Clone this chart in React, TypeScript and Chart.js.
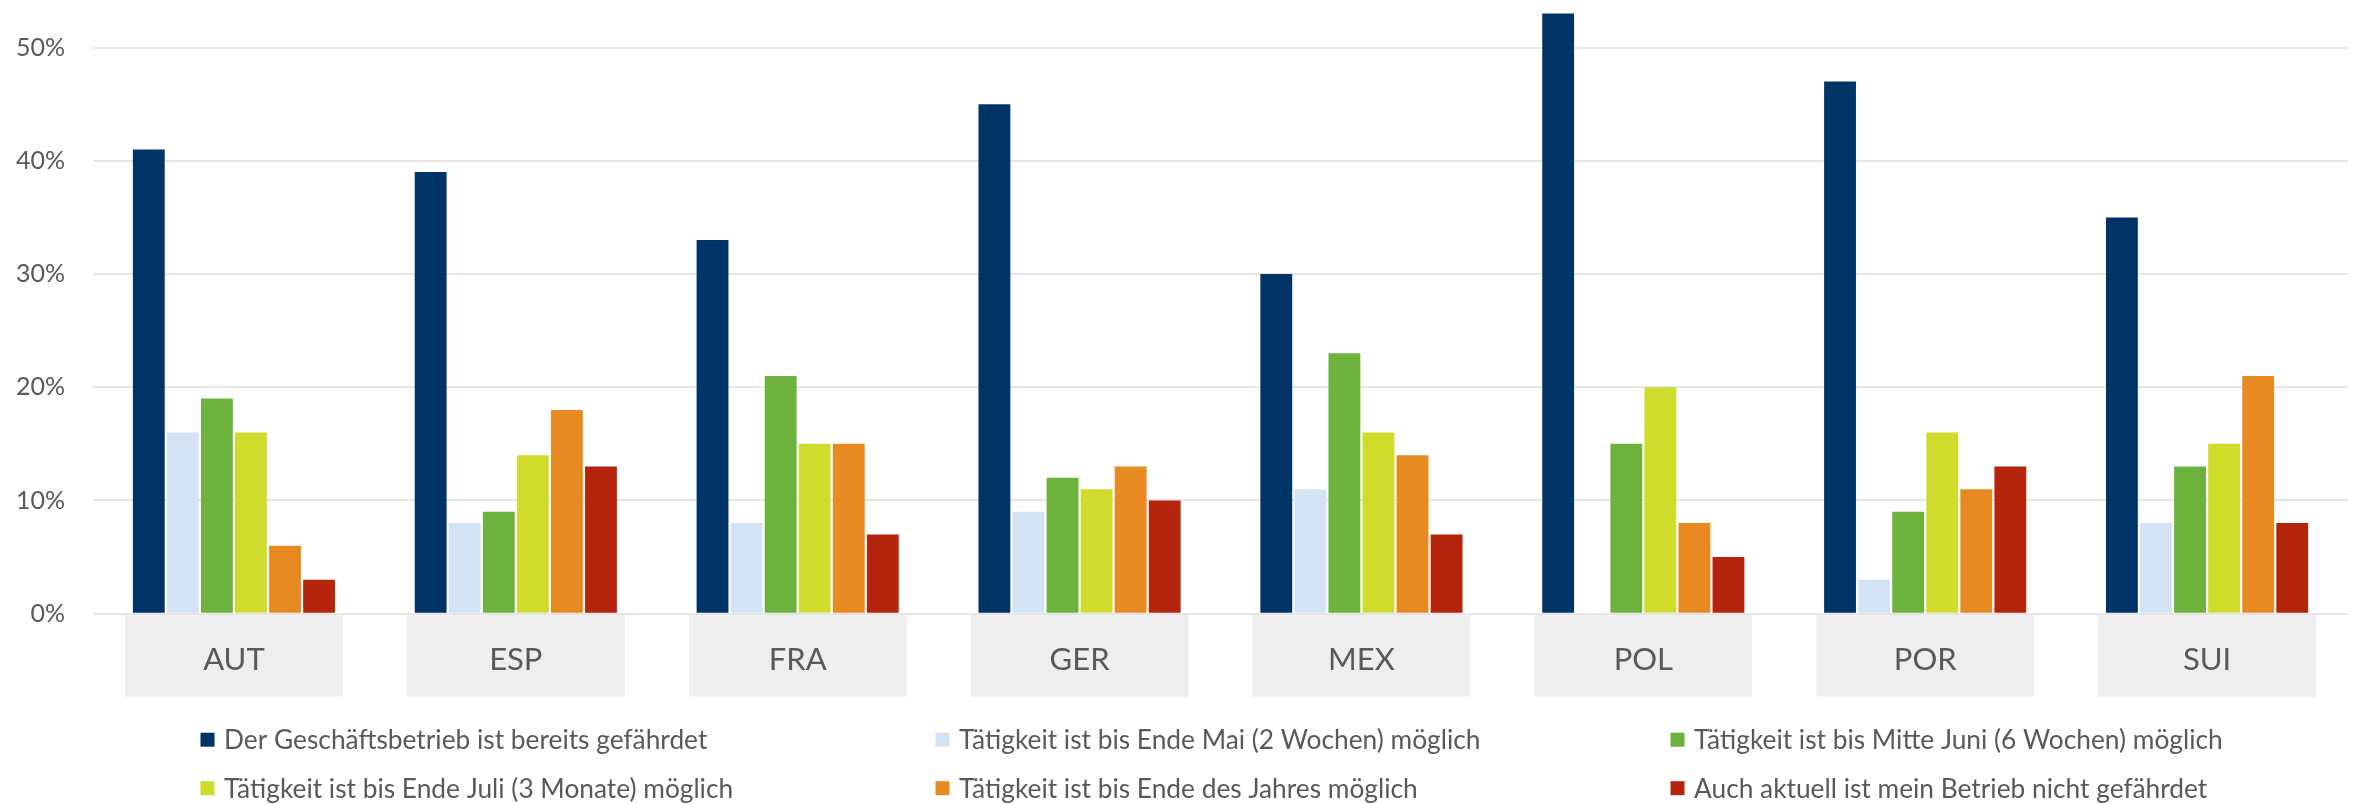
import React, { useEffect, useRef } from 'react';
import { Chart, registerables } from 'chart.js';

Chart.register(...registerables);

const categories = ['AUT', 'ESP', 'FRA', 'GER', 'MEX', 'POL', 'POR', 'SUI'];

const seriesLabels = [
  'Der Geschäftsbetrieb ist bereits gefährdet',
  'Tätigkeit ist bis Ende Mai (2 Wochen) möglich',
  'Tätigkeit ist bis Mitte Juni (6 Wochen) möglich',
  'Tätigkeit ist bis Ende Juli (3 Monate) möglich',
  'Tätigkeit ist bis Ende des Jahres möglich',
  'Auch aktuell ist mein Betrieb nicht gefährdet',
];

const seriesColors = ['#003466', '#D3E3F4', '#6CB23C', '#D0DC2B', '#E88A22', '#B5250D'];

const gefaehrdet = [41, 39, 33, 45, 30, 53, 47, 35];
const endeMai = [16, 8, 8, 9, 11, 0, 3, 8];
const mitteJuni = [19, 9, 21, 12, 23, 15, 9, 13];
const endeJuli = [16, 14, 15, 11, 16, 20, 16, 15];
const endeJahr = [6, 18, 15, 13, 14, 8, 11, 21];
const nichtGefaehrdet = [3, 13, 7, 10, 7, 5, 13, 8];

const seriesValues = [gefaehrdet, endeMai, mitteJuni, endeJuli, endeJahr, nichtGefaehrdet];

const yTickValues = [0, 10, 20, 30, 40, 50];

const FONT = 'Lato, "Open Sans", "Noto Sans", sans-serif';
const TEXT = '#595959';

const categoryBoxes = {
  id: 'categoryBoxes',
  beforeDraw(chart: any) {
    const { ctx, chartArea, scales } = chart;
    const x = scales.x;
    const cw = (x.right - x.left) / categories.length;
    const w = cw * 0.7725;
    ctx.save();
    ctx.fillStyle = '#EEEEEE';
    categories.forEach((_, i) => {
      const cx = x.getPixelForValue(i);
      ctx.fillRect(cx - w / 2, chartArea.bottom + 1.5, w, 81.5);
    });
    ctx.restore();
  },
};

const gridLegend = {
  id: 'gridLegend',
  afterDraw(chart: any) {
    const { ctx, chartArea } = chart;
    const center = (chartArea.left + chartArea.right) / 2;
    const colW = 735;
    const startX = center - 1020;
    const row0 = chartArea.bottom + 126;
    const rowH = 48.5;
    ctx.save();
    ctx.font = `26.3px ${FONT}`;
    ctx.textBaseline = 'middle';
    ctx.textAlign = 'left';
    chart.data.datasets.forEach((ds: any, i: number) => {
      const col = i % 3;
      const row = Math.floor(i / 3);
      const x = startX + col * colW;
      const y = row0 + row * rowH;
      ctx.fillStyle = ds.backgroundColor;
      ctx.fillRect(x, y - 7, 14, 14);
      ctx.fillStyle = TEXT;
      ctx.fillText(ds.label, x + 23.5, y + 1);
    });
    ctx.restore();
  },
};

export default function App() {
  const canvasRef = useRef<HTMLCanvasElement | null>(null);

  useEffect(() => {
    document.body.style.margin = '0';
    const canvas = canvasRef.current;
    if (!canvas) return;
    const chart = new Chart(canvas, {
      type: 'bar',
      data: {
        labels: categories,
        datasets: seriesLabels.map((label, i) => ({
          label,
          data: seriesValues[i],
          backgroundColor: seriesColors[i],
          borderWidth: 0,
          categoryPercentage: 0.725,
          barPercentage: 0.935,
        })),
      },
      options: {
        animation: false,
        responsive: true,
        maintainAspectRatio: false,
        layout: { padding: { top: 0, left: 0, right: 11, bottom: 0 } },
        plugins: {
          legend: { display: false },
          tooltip: { enabled: false },
        },
        scales: {
          x: {
            grid: { display: false, drawTicks: false },
            border: { display: false },
            ticks: {
              color: TEXT,
              font: { family: FONT, size: 31 },
              padding: 28,
              maxRotation: 0,
              autoSkip: false,
            },
            afterFit: (s: any) => {
              s.height = 804 - 613.7;
            },
          },
          y: {
            min: 0,
            max: 54.2,
            afterBuildTicks: (s: any) => {
              s.ticks = yTickValues.map((v) => ({ value: v }));
            },
            afterFit: (s: any) => {
              s.width = 93;
              s.paddingTop = 0;
              s.paddingBottom = 0;
            },
            ticks: {
              color: TEXT,
              font: { family: FONT, size: 25 },
              padding: 28,
              callback: (v: any) => `${v}%`,
            },
            grid: { color: '#E6E6E6', lineWidth: 2, drawTicks: false },
            border: { display: false },
          },
        },
      },
      plugins: [categoryBoxes, gridLegend],
    });
    return () => chart.destroy();
  }, []);

  return (
    <div style={{ position: 'relative', width: '2359px', height: '804px' }}>
      <canvas ref={canvasRef} style={{ display: 'block' }} />
    </div>
  );
}
